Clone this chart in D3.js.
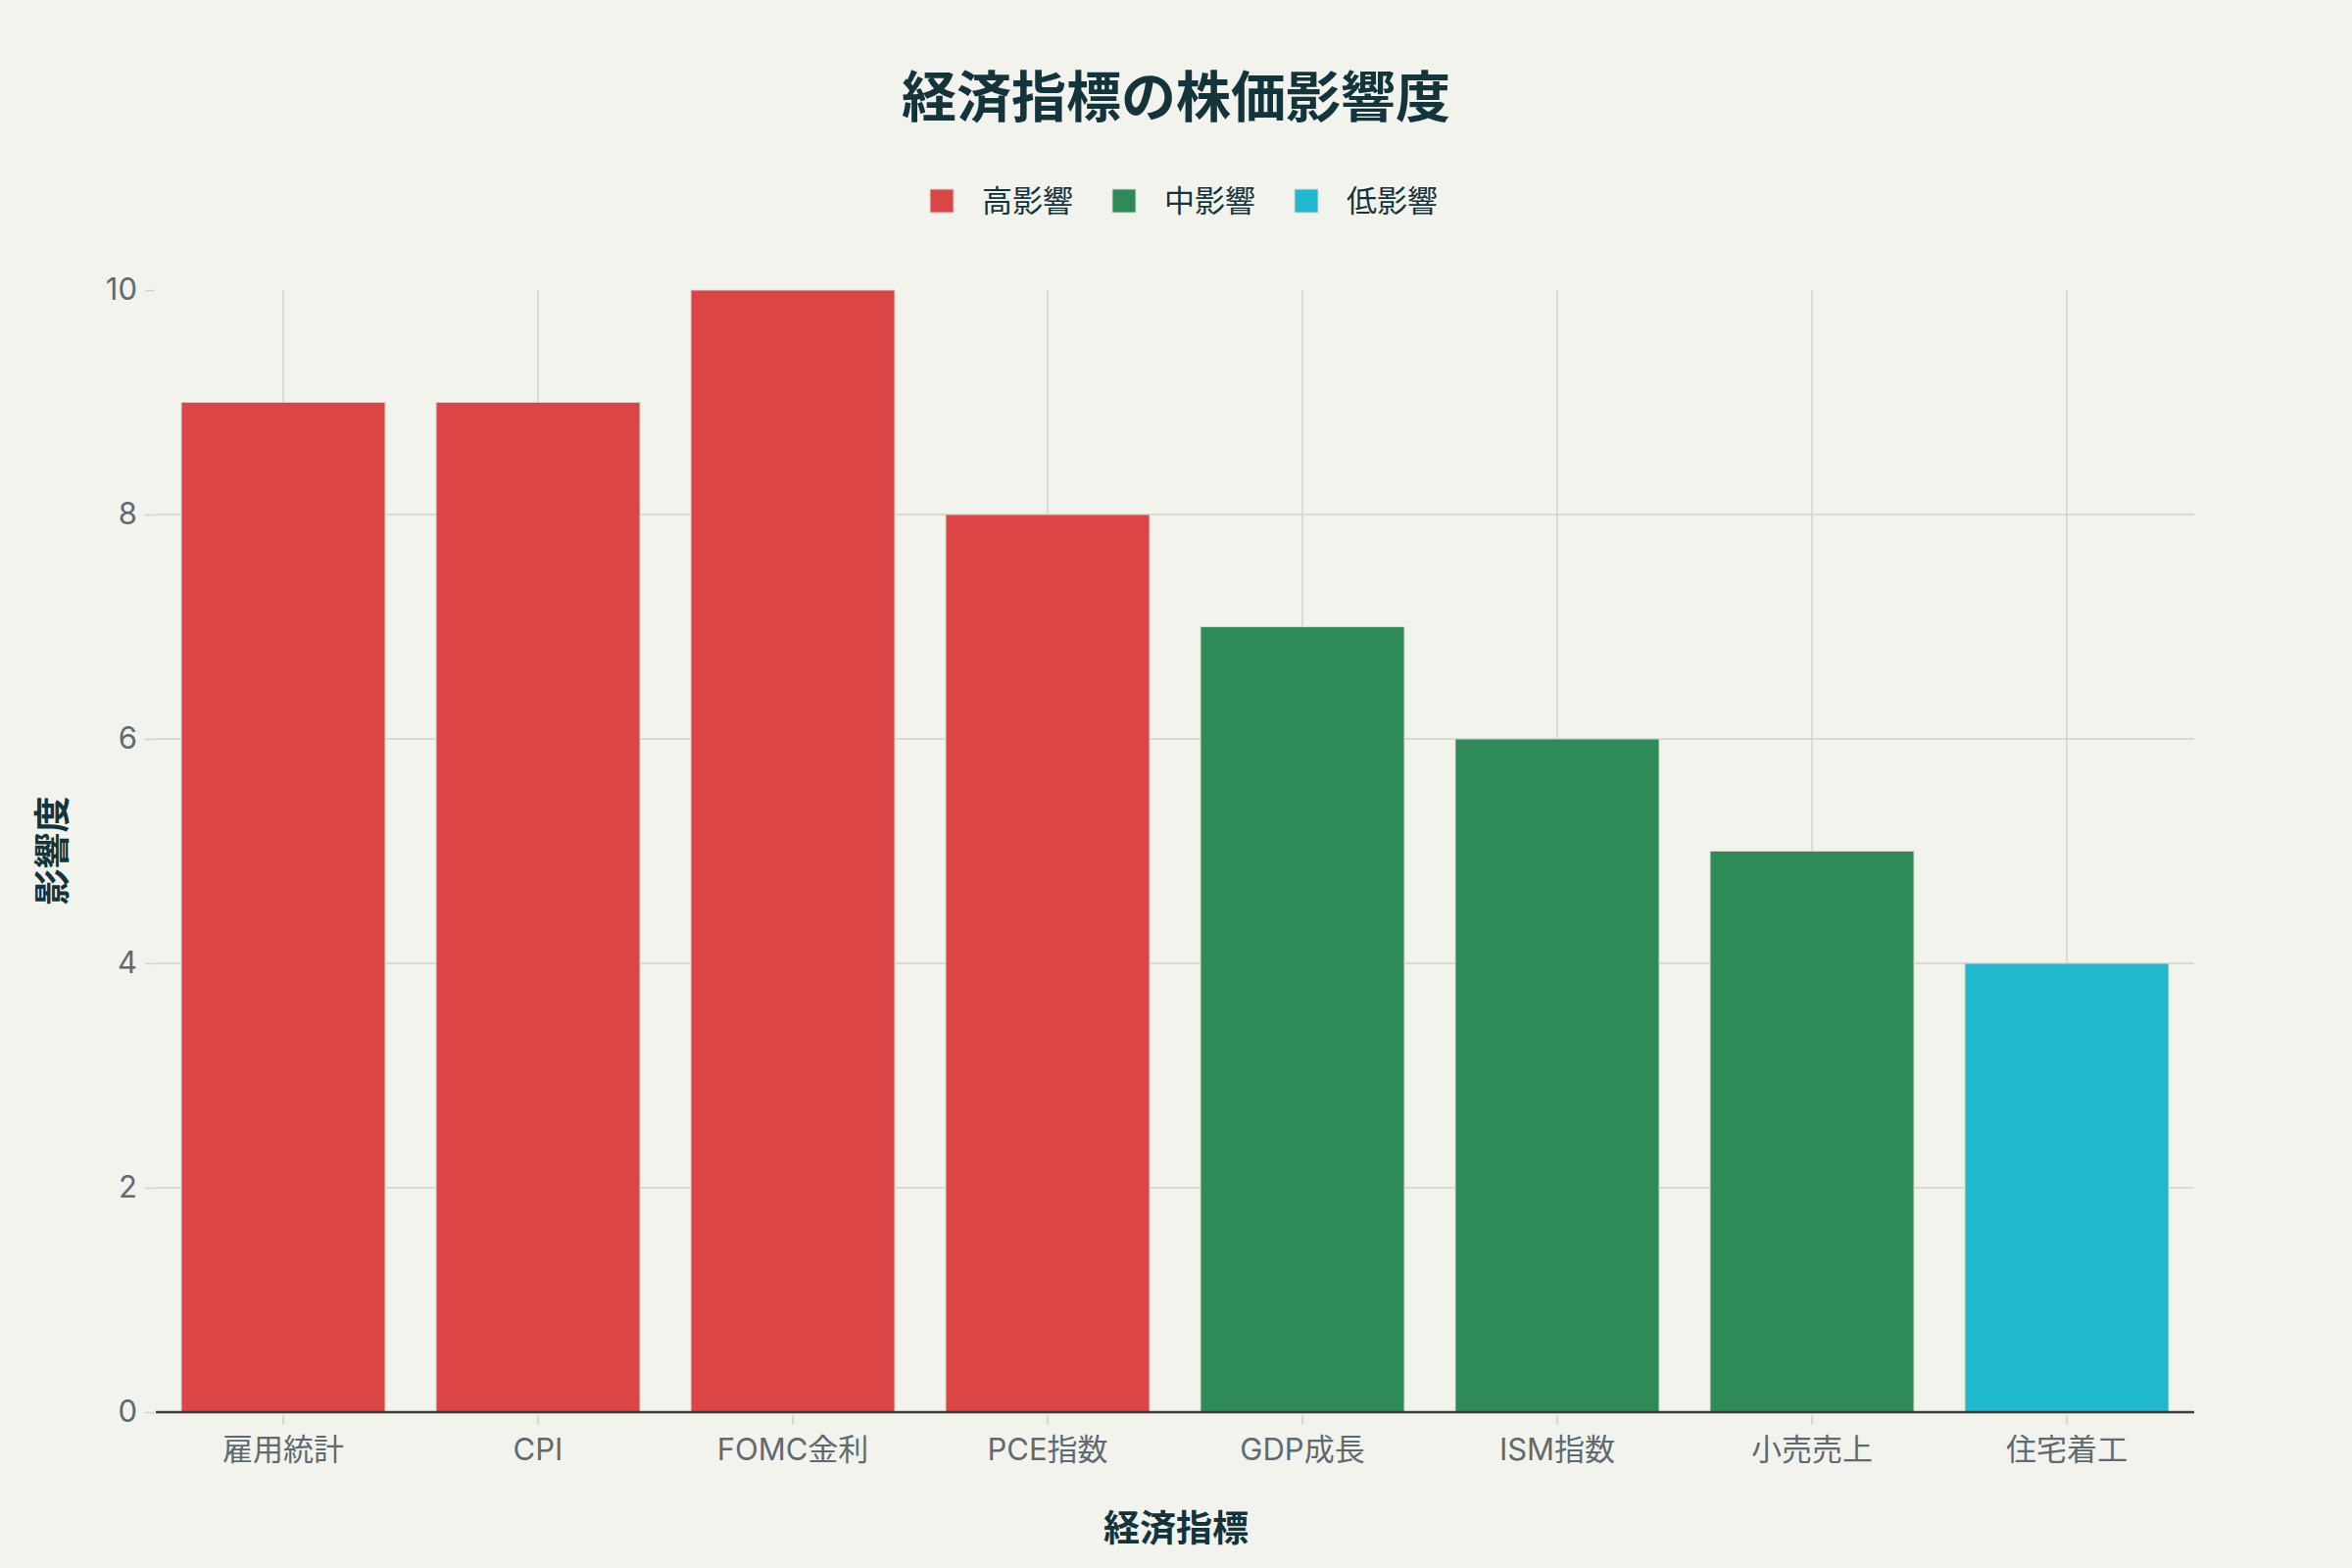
<!DOCTYPE html>
<html>
<head>
<meta charset="utf-8">
<script src="https://cdn.jsdelivr.net/npm/d3@7"></script>
<style>
  html, body { margin: 0; padding: 0; background: #f3f3ee; }
  svg { display: block; }
  text { font-family: "Inter", "Noto Sans CJK JP", sans-serif; }
</style>
</head>
<body>
<svg id="chart" width="2400" height="1600"></svg>
<script>
// Chart data
const indicators = ["雇用統計", "CPI", "FOMC金利", "PCE指数", "GDP成長", "ISM指数", "小売売上", "住宅着工"];
const impactScores = [9, 9, 10, 8, 7, 6, 5, 4];
const impactLevels = ["高影響", "高影響", "高影響", "高影響", "中影響", "中影響", "中影響", "低影響"];
const levelNames = ["高影響", "中影響", "低影響"];
const levelColors = ["#db4545", "#2e8b57", "#1fb8cd"];
const yTicks = [0, 2, 4, 6, 8, 10];

const width = 2400;
const height = 1600;
const margin = { top: 296, right: 161, bottom: 159, left: 159 };

const svg = d3.select("#chart");

svg.append("rect")
  .attr("width", width)
  .attr("height", height)
  .attr("fill", "#f3f3ee");

// Bars centred on category slots, 20% gap between them
const x = d3.scaleBand()
  .domain(indicators)
  .range([margin.left, width - margin.right])
  .paddingInner(0.2)
  .paddingOuter(0.1);

const y = d3.scaleLinear()
  .domain([0, 10])
  .range([height - margin.bottom, margin.top]);

const color = d3.scaleOrdinal()
  .domain(levelNames)
  .range(levelColors);

// Grid lines (vertical at each category, horizontal between 0 and 10)
const grid = svg.append("g");
grid.selectAll(".vgrid")
  .data(indicators)
  .enter()
  .append("line")
  .attr("x1", d => x(d) + x.bandwidth() / 2)
  .attr("x2", d => x(d) + x.bandwidth() / 2)
  .attr("y1", y(0))
  .attr("y2", y(10))
  .attr("stroke", "#d2d0ca")
  .attr("stroke-width", 1.5);

grid.selectAll(".hgrid")
  .data(yTicks.filter(t => t > 0 && t < 10))
  .enter()
  .append("line")
  .attr("x1", margin.left)
  .attr("x2", width - margin.right)
  .attr("y1", d => y(d))
  .attr("y2", d => y(d))
  .attr("stroke", "#d2d0ca")
  .attr("stroke-width", 1.5);

// Bars
svg.append("g")
  .selectAll("rect")
  .data(indicators)
  .enter()
  .append("rect")
  .attr("x", d => x(d))
  .attr("width", x.bandwidth())
  .attr("y", (d, i) => y(impactScores[i]))
  .attr("height", (d, i) => y(0) - y(impactScores[i]))
  .attr("fill", (d, i) => color(impactLevels[i]))
  .attr("stroke", "#dcd8d0")
  .attr("stroke-width", 1);

// Y axis
const yAxis = svg.append("g")
  .attr("transform", `translate(${margin.left - 1},0)`)
  .call(d3.axisLeft(y).tickValues(yTicks).tickSize(10).tickPadding(8));
yAxis.select(".domain").remove();
yAxis.selectAll(".tick line").attr("stroke", "#d2d0ca").attr("stroke-width", 1.5);
yAxis.selectAll(".tick text")
  .attr("fill", "#5e6a71")
  .style("font-size", "31px");

// X axis
const xAxis = svg.append("g")
  .attr("transform", `translate(0,${y(0)})`)
  .call(d3.axisBottom(x).tickSize(0).tickPadding(0));
xAxis.select(".domain")
  .attr("stroke", "#3a3a3a")
  .attr("stroke-width", 2.5)
  .attr("d", `M${margin.left},0H${width - margin.right}`);
xAxis.selectAll(".tick").append("line")
  .attr("y1", 3)
  .attr("y2", 13)
  .attr("stroke", "#d2d0ca")
  .attr("stroke-width", 1.5);
xAxis.selectAll(".tick text")
  .attr("y", 38)
  .attr("dy", "0.35em")
  .attr("fill", "#5e6a71")
  .style("font-size", "31px");

// Title
svg.append("text")
  .attr("x", width / 2)
  .attr("y", 99)
  .attr("dy", "0.35em")
  .attr("text-anchor", "middle")
  .attr("fill", "#13343b")
  .style("font-size", "56px")
  .style("font-weight", "bold")
  .text("経済指標の株価影響度");

// Axis titles
svg.append("text")
  .attr("x", width / 2)
  .attr("y", 1560)
  .attr("dy", "0.35em")
  .attr("text-anchor", "middle")
  .attr("fill", "#13343b")
  .style("font-size", "37px")
  .style("font-weight", "bold")
  .text("経済指標");

svg.append("text")
  .attr("transform", "translate(54,868) rotate(-90)")
  .attr("dy", "0.35em")
  .attr("text-anchor", "middle")
  .attr("fill", "#13343b")
  .style("font-size", "37px")
  .style("font-weight", "bold")
  .text("影響度");

// Legend
const legendX = [961, 1147, 1333];
const legend = svg.append("g")
  .selectAll("g")
  .data(levelNames)
  .enter()
  .append("g")
  .attr("transform", (d, i) => `translate(${legendX[i]},205)`);

legend.append("rect")
  .attr("x", -12)
  .attr("y", -12)
  .attr("width", 24)
  .attr("height", 24)
  .attr("fill", d => color(d))
  .attr("stroke", "#dcd8d0")
  .attr("stroke-width", 1);

legend.append("text")
  .attr("x", 41)
  .attr("dy", "0.35em")
  .attr("fill", "#13343b")
  .style("font-size", "31px")
  .text(d => d);
</script>
</body>
</html>
